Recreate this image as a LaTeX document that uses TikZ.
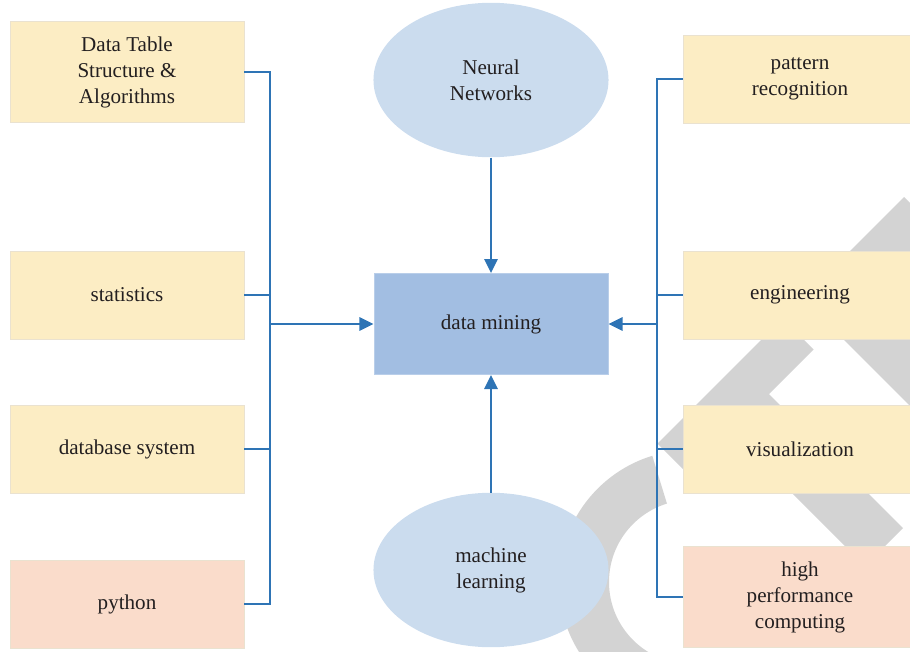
\documentclass[tikz,border=0pt]{standalone}
\usepackage{fontspec}
\setmainfont{Liberation Serif}
\usetikzlibrary{arrows.meta,shapes.geometric}
\definecolor{boxyellow}{RGB}{252,237,196}
\definecolor{boxsalmon}{RGB}{250,220,203}
\definecolor{boxline}{RGB}{234,226,208}
\definecolor{dmblue}{RGB}{162,190,226}
\definecolor{ovalblue}{RGB}{203,220,238}
\definecolor{linkblue}{RGB}{46,116,181}
\definecolor{markgray}{RGB}{211,211,211}
\definecolor{textdark}{RGB}{35,31,32}

\begin{document}
\begin{tikzpicture}[x=0.025cm, y=-0.025cm,
    every node/.style = {font=\fontsize{15pt}{18.5pt}\selectfont, text=textdark, align=center},
    box/.style = {draw=boxline, line width=0.6pt, minimum width=5.85cm, minimum height=2.2cm},
    ybox/.style = {box, fill=boxyellow},
    rbox/.style = {box, fill=boxsalmon},
    tall/.style = {minimum height=2.525cm},
    dmbox/.style = {box, tall, fill=dmblue, draw=dmblue!75!white},
    oval/.style = {ellipse, fill=ovalblue, minimum width=5.875cm, minimum height=3.86cm},
    link/.style = {draw=linkblue, line width=1.3pt},
    arr/.style = {link, -{Triangle[length=10pt, width=9.5pt]}}]
  \useasboundingbox (0,0) rectangle (910,652);

  \begin{scope}
    \clip (0,0) rectangle (910,652);
    \fill[markgray] (657.5,443.5) -- (782.5,318.5) -- (813.5,349.5) -- (769,394)
      -- (903,528) -- (865,566) -- (731,432) -- (688.5,474.5) -- cycle;
    \fill[markgray] (904,197) -- (1004,297) -- (1004,500) -- (802.5,298.5) -- cycle;
    \begin{scope}
      \clip (691,582) -- (603,295) -- (300,295) -- (300,900) -- (691,900) -- cycle;
      \fill[markgray, even odd rule] (691,582) circle[radius=132] (691,582) circle[radius=82];
    \end{scope}
  \end{scope}

  \node[ybox, tall] (dt) at (127,72) {Data Table\\Structure \&\\Algorithms};
  \node[ybox] (st) at (127,295) {statistics};
  \node[ybox] (db) at (127,449) {database system};
  \node[rbox] (py) at (127,604) {python};

  \node[dmbox] (dm) at (491,324) {data mining};
  \node[oval] (nn) at (491,80) {Neural\\Networks};
  \node[oval] (ml) at (491,570) {machine\\learning};

  \node[ybox] (pr) at (800,79) {pattern\\recognition};
  \node[ybox] (en) at (800,295) {engineering};
  \node[ybox] (vi) at (800,449) {visualization};
  \node[rbox, tall] (hp) at (800,597) {high\\performance\\computing};

  \coordinate (lbus) at (270,324);
  \coordinate (rbus) at (657,324);

  \draw[link] (dt.east) -| (lbus) |- (py.east);
  \draw[link] (st.east) -| (lbus);
  \draw[link] (db.east) -| (lbus);
  \draw[arr] (lbus) -- (dm.west);

  \draw[link] (pr.west) -| (rbus) |- (hp.west);
  \draw[link] (en.west) -| (rbus);
  \draw[link] (vi.west) -| (rbus);
  \draw[arr] (rbus) -- (dm.east);

  \draw[arr] (nn) -- (dm);
  \draw[arr] (ml) -- (dm);
\end{tikzpicture}
\end{document}
